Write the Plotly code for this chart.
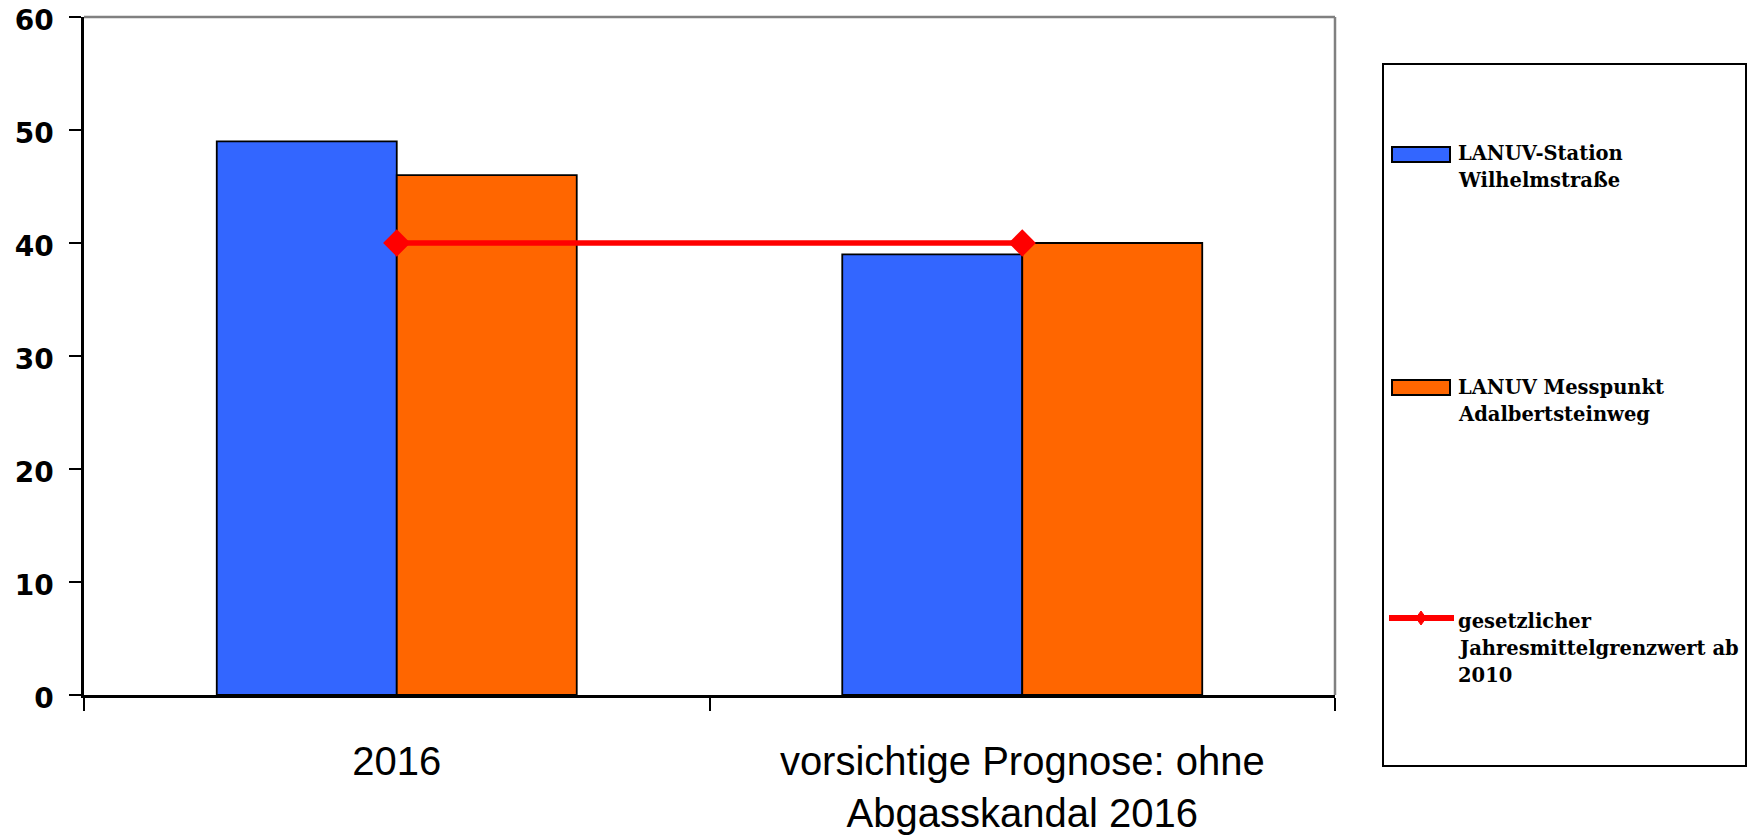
import plotly.graph_objects as go

# ---- data ----
categories = ["2016", "vorsichtige Prognose: ohne<br>Abgasskandal 2016"]
series_names = ["LANUV-Station Wilhelmstraße", "LANUV Messpunkt Adalbertsteinweg",
                "gesetzlicher Jahresmittelgrenzwert ab 2010"]
legend_lines = [["LANUV-Station", "Wilhelmstraße"],
                ["LANUV Messpunkt", "Adalbertsteinweg"],
                ["gesetzlicher", "Jahresmittelgrenzwert ab", "2010"]]
wilhelmstrasse = [49, 39]
adalbertsteinweg = [46, 40]
grenzwert = [40, 40]
y_ticks = [0, 10, 20, 30, 40, 50, 60]

# ---- styles ----
BLUE = "#3366FF"
ORANGE = "#FF6600"
RED = "#FF0000"
W, H = 1759, 835
L, R, T, B = 84, 1335, 17, 695  # plot area in page pixels


def px(x):
    return (x - L) / (R - L)


def py(y):
    return (B - y) / (B - T)


fig = go.Figure()
fig.add_trace(go.Bar(x=categories, y=wilhelmstrasse, name=series_names[0],
                     marker=dict(color=BLUE, line=dict(color="black", width=1.8))))
fig.add_trace(go.Bar(x=categories, y=adalbertsteinweg, name=series_names[1],
                     marker=dict(color=ORANGE, line=dict(color="black", width=1.8))))
fig.add_trace(go.Scatter(x=categories, y=grenzwert, name=series_names[2],
                         mode="lines+markers",
                         line=dict(color=RED, width=5.5),
                         marker=dict(symbol="diamond", size=21, color=RED)))

fig.update_layout(
    width=W, height=H,
    margin=dict(l=L, r=W - R, t=T, b=H - B, pad=0),
    paper_bgcolor="white", plot_bgcolor="white",
    barmode="group", bargap=0.4245, bargroupgap=0,
    showlegend=False,
)
fig.update_xaxes(
    type="category", tickson="boundaries", ticks="outside", ticklen=13,
    tickwidth=2, tickcolor="black", showline=True, linecolor="black", linewidth=3,
    showgrid=False, tickfont=dict(family="Liberation Sans", size=40, color="black"),
    ticklabelstandoff=29, automargin=False, ticklabeloverflow="allow",
)
fig.update_yaxes(
    range=[0, 60], tickvals=y_ticks, ticks="outside", ticklen=12, tickwidth=2,
    tickcolor="black", showline=True, linecolor="black", linewidth=2.5,
    showgrid=False, zeroline=False,
    tickfont=dict(family="DejaVu Sans", size=28, color="black", weight="bold"),
    ticklabelstandoff=10, ticklabelshift=3, automargin=False, ticklabeloverflow="allow",
)

shapes = [
    # gray top and right plot border
    dict(type="line", xref="paper", yref="paper", x0=0, x1=1, y0=1, y1=1,
         line=dict(color="#808080", width=2.5)),
    dict(type="line", xref="paper", yref="paper", x0=1, x1=1, y0=0, y1=1,
         line=dict(color="#808080", width=2.5)),
    # legend box
    dict(type="rect", xref="paper", yref="paper", x0=px(1383), x1=px(1746),
         y0=py(766), y1=py(64), line=dict(color="black", width=2), fillcolor="rgba(0,0,0,0)"),
    # legend symbols
    dict(type="rect", xref="paper", yref="paper", x0=px(1392), x1=px(1450),
         y0=py(162), y1=py(147), line=dict(color="black", width=2), fillcolor=BLUE),
    dict(type="rect", xref="paper", yref="paper", x0=px(1392), x1=px(1450),
         y0=py(395), y1=py(380), line=dict(color="black", width=2), fillcolor=ORANGE),
    dict(type="line", xref="paper", yref="paper", x0=px(1389), x1=px(1454),
         y0=py(618), y1=py(618), line=dict(color=RED, width=6)),
    dict(type="path", xref="paper", yref="paper",
         path=(f"M {px(1421)},{py(611)} L {px(1426)},{py(618)} "
               f"L {px(1421)},{py(625)} L {px(1416)},{py(618)} Z"),
         line=dict(color=RED, width=1), fillcolor=RED),
]
fig.update_layout(shapes=shapes)

legend_tops = [140, 374, 608]
LINE_STEP = 27
for lines, top in zip(legend_lines, legend_tops):
    for i, line in enumerate(lines):
        fig.add_annotation(
            xref="paper", yref="paper", x=px(1456), y=py(top + i * LINE_STEP),
            xanchor="left", yanchor="top", text=line, showarrow=False, align="left",
            font=dict(family="DejaVu Serif", size=19.5, color="black", weight="bold"),
        )

fig.write_html("out.html", config={"displayModeBar": False},
               post_script="document.body.style.margin='0';document.body.style.overflow='hidden';")
